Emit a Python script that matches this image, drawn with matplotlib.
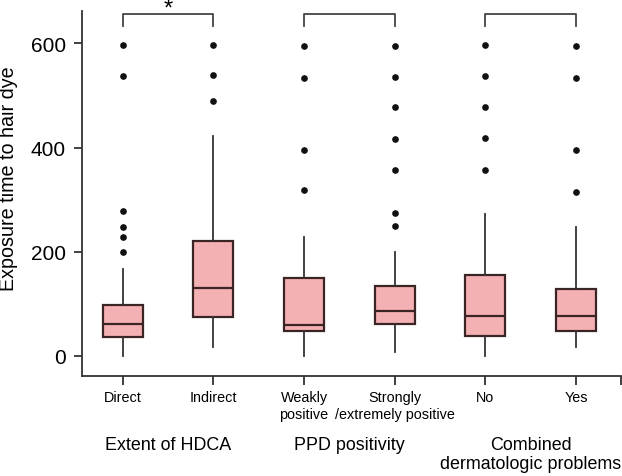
import numpy as np
import matplotlib.pyplot as plt

plt.rcParams['font.family'] = ['Liberation Sans', 'DejaVu Sans']

# box statistics (minutes)
labels = ["Direct", "Indirect", "Weakly\npositive", "Strongly\n/extremely positive", "No", "Yes"]
q1 = [36.5, 75.6, 47.4, 61.4, 38.4, 47.4]
med = [61.4, 130, 59.5, 87, 76.8, 76.2]
q3 = [97.9, 220, 148.6, 134.4, 155, 127.5]
whislo = [0, 18, 0, 7.7, 0, 18]
whishi = [166, 422, 229, 199.7, 272, 246.5]
fliers = [
    [198.5, 228.5, 247.7, 277.8, 536.5, 597],
    [489, 539.5, 597],
    [317.6, 395.5, 534, 594],
    [249, 274, 356.6, 416, 477, 534.5, 594],
    [356.6, 418.6, 477, 536.5, 597],
    [315, 395.5, 534, 594],
]
groups = ["Extent of HDCA", "PPD positivity", "Combined\ndermatologic problems"]
signif = ["*", "", ""]

stats = []
for i in range(len(labels)):
    stats.append(dict(q1=q1[i], med=med[i], q3=q3[i], whislo=whislo[i],
                      whishi=whishi[i], fliers=fliers[i], label=labels[i]))

fig = plt.figure(figsize=(6.22, 4.77), dpi=100)
ax = fig.add_axes([0.1318, 0.2103, 0.8672, 0.7645])

pos = np.arange(1, len(labels) + 1)
edge = '#3b2424'
ax.bxp(stats, positions=pos, widths=0.44, patch_artist=True, showcaps=False,
       boxprops=dict(facecolor='#f4b1b3', edgecolor=edge, linewidth=1.6),
       medianprops=dict(color=edge, linewidth=1.6),
       whiskerprops=dict(color='#333333', linewidth=1.3),
       flierprops=dict(marker='o', markerfacecolor='#111111', markeredgecolor='#111111',
                       markersize=3.8))

ax.set_xlim(0.55, 6.5)
ax.set_ylim(-38, 662)
ax.set_yticks([0, 200, 400, 600])
ax.set_xticks(list(pos) + [6.5])
ax.set_xticklabels(labels + [""], fontsize=10.4, linespacing=1.25)
ax.tick_params(axis='y', labelsize=15, length=6, width=1.3, color='#333333', pad=5.5)
ax.tick_params(axis='x', length=6.5, width=1.3, color='#333333', pad=4)
for s in ['top', 'right']:
    ax.spines[s].set_visible(False)
for s in ['left', 'bottom']:
    ax.spines[s].set_color('#333333')
    ax.spines[s].set_linewidth(1.3)
fig.text(9 / 622, 1 - 179 / 477, "Exposure time to hair dye", fontsize=14.2,
         rotation=90, ha='center', va='center')

# group labels and brackets
for g in range(3):
    a, b = pos[2 * g], pos[2 * g + 1]
    ax.plot([a, a, b, b], [634, 656, 656, 634], color='#444444', lw=1.3, clip_on=False)
    if signif[g]:
        ax.text((a + b) / 2, 655, signif[g], ha='center', va='baseline', fontsize=17)
    ax.annotate(groups[g], xy=((a + b) / 2, 0), xycoords=('data', 'figure fraction'),
                xytext=(0, 0.083 * 477), textcoords='offset pixels',
                ha='center', va='top', fontsize=12.9, linespacing=1.15)

fig.savefig("out.png", dpi=100)
